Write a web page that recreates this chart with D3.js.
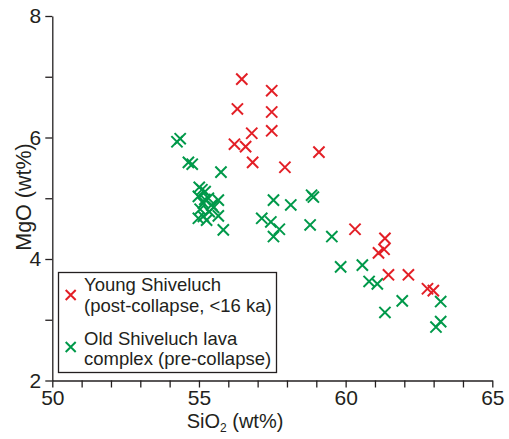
<!DOCTYPE html>
<html><head><meta charset="utf-8">
<script src="https://cdn.jsdelivr.net/npm/d3@7"></script>
<style>
html,body{margin:0;padding:0;background:#fff;}
svg{display:block;font-family:"Liberation Sans",Arial,sans-serif;}
</style></head>
<body>
<svg id="c" width="509" height="439"></svg>
<script>
// Young Shiveluch (post-collapse, <16 ka)
const youngSiO2 = [56.46,57.48,56.31,57.48,57.48,56.80,56.21,56.59,56.83,57.93,59.09,60.32,61.34,61.31,61.12,61.46,62.14,62.79,62.99];
const youngMgO  = [6.96,6.77,6.47,6.42,6.11,6.07,5.89,5.85,5.59,5.51,5.76,4.49,4.34,4.16,4.10,3.74,3.74,3.51,3.48];
// Old Shiveluch lava complex (pre-collapse)
const oldSiO2 = [54.25,54.36,54.64,54.77,55.75,
  55.01,55.10,55.21,54.98,55.32,55.66,55.15,55.43,55.04,55.35,55.66,55.15,54.98,55.26,55.50,55.20,
  55.83,57.54,58.13,57.14,57.45,57.74,57.54,58.84,58.90,58.79,59.53,59.83,60.57,60.80,61.08,61.93,61.34,63.24,63.24,63.08];
const oldMgO = [5.93,5.98,5.59,5.56,5.43,
  5.18,5.14,5.11,5.03,5.00,4.97,4.92,4.89,4.82,4.78,4.71,4.70,4.67,4.64,4.85,4.98,
  4.48,4.97,4.89,4.67,4.61,4.49,4.37,5.05,5.02,4.56,4.37,3.87,3.90,3.63,3.59,3.31,3.12,3.30,2.97,2.88];
const xTicks = [50,51,52,53,54,55,56,57,58,59,60,61,62,63,64,65];
const xLabels = [50,55,60,65];
const yTicks = [2,3,4,5,6,7,8];
const yLabels = [2,4,6,8];
const seriesNames = [["Young Shiveluch","(post-collapse, <16 ka)"],["Old Shiveluch lava","complex (pre-collapse)"]];
const colors = ["#e31f26","#00994a"];

const svg = d3.select("#c");
const x = d3.scaleLinear().domain([50,65]).range([52.3,492.3]);
const y = d3.scaleLinear().domain([2,8]).range([380.5,16]);
const ink = "#231f20";

const xa = svg.append("g").attr("transform","translate(0,"+y(2)+")")
  .call(d3.axisBottom(x).tickValues(xTicks).tickSize(7).tickSizeOuter(0).tickPadding(3)
    .tickFormat(d => xLabels.includes(d) ? d : ""));
const ya = svg.append("g").attr("transform","translate("+x(50)+",0)")
  .call(d3.axisLeft(y).tickValues(yTicks).tickSize(7).tickSizeOuter(0).tickPadding(4)
    .tickFormat(d => yLabels.includes(d) ? d : ""));
[xa,ya].forEach(a=>{
  a.selectAll("path,line").attr("stroke",ink).attr("stroke-width",1.3);
  a.selectAll("text").filter(function(){return this.textContent==="";}).remove();
  a.selectAll("text").attr("fill",ink).style("font-size","21px").style("font-family","'Liberation Sans',Arial,sans-serif");
});

// axis titles
const xt = svg.append("text").attr("x",235).attr("y",428).attr("text-anchor","middle")
  .attr("fill",ink).style("font-size","20px");
xt.append("tspan").text("SiO");
xt.append("tspan").text("2").style("font-size","12px").attr("dy",4);
xt.append("tspan").text(" (wt%)").attr("dy",-4);
svg.append("text").attr("transform","translate(31,197) rotate(-90)").attr("text-anchor","middle")
  .attr("fill",ink).style("font-size","21.5px").text("MgO (wt%)");

function xPath(cx,cy,s){return `M${cx-s},${cy-s}L${cx+s},${cy+s}M${cx-s},${cy+s}L${cx+s},${cy-s}`;}

const g = svg.append("g");
g.selectAll("path.old").data(oldSiO2.map((v,i)=>[v,oldMgO[i]])).join("path").attr("class","old")
  .attr("d",d=>xPath(x(d[0]),y(d[1]),5.6)).attr("stroke",colors[1]).attr("stroke-width",2).attr("fill","none");
g.selectAll("path.young").data(youngSiO2.map((v,i)=>[v,youngMgO[i]])).join("path").attr("class","young")
  .attr("d",d=>xPath(x(d[0]),y(d[1]),5.6)).attr("stroke",colors[0]).attr("stroke-width",2).attr("fill","none");

// legend
const lg = svg.append("g");
lg.append("rect").attr("x",58.5).attr("y",272.5).attr("width",218).attr("height",100)
  .attr("fill","#fff").attr("stroke",ink).attr("stroke-width",1.3);
const rows = [[291,311.5,295],[345,365,347]];
rows.forEach((r,i)=>{
  lg.append("path").attr("d",xPath(70.7,r[2],5)).attr("stroke",colors[i]).attr("stroke-width",2).attr("fill","none");
  lg.append("text").attr("x",84).attr("y",r[0]).attr("fill",ink).style("font-size","18.5px").text(seriesNames[i][0]);
  lg.append("text").attr("x",84).attr("y",r[1]).attr("fill",ink).style("font-size","18.5px").text(seriesNames[i][1]);
});
</script>
</body></html>
